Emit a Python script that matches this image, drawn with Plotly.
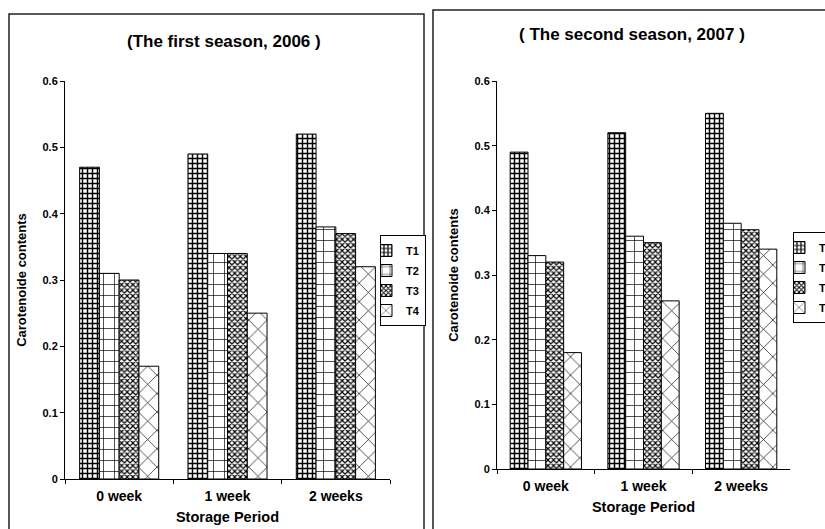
import plotly.graph_objects as go

# Storage periods on the category axis
periods = ["0 week", "1 week", "2 weeks"]
treatments = ["T1", "T2", "T3", "T4"]

# Carotenoide contents, first season (2006)
s2006_T1 = [0.47, 0.49, 0.52]
s2006_T2 = [0.31, 0.34, 0.38]
s2006_T3 = [0.30, 0.34, 0.37]
s2006_T4 = [0.17, 0.25, 0.32]

# Carotenoide contents, second season (2007)
s2007_T1 = [0.49, 0.52, 0.55]
s2007_T2 = [0.33, 0.36, 0.38]
s2007_T3 = [0.32, 0.35, 0.37]
s2007_T4 = [0.18, 0.26, 0.34]

season1 = [s2006_T1, s2006_T2, s2006_T3, s2006_T4]
season2 = [s2007_T1, s2007_T2, s2007_T3, s2007_T4]

W, H = 825, 529
FONT = "Liberation Sans, Arial, sans-serif"

# Black-and-white fill patterns for each treatment
patterns = {
    "T1": dict(shape="+", size=5, solidity=0.5),
    "T2": dict(shape="+", size=11, solidity=0.12),
    "T3": dict(shape="x", size=4, solidity=0.5),
    "T4": dict(shape="x", size=13, solidity=0.1),
}


def px_x(v):
    return v / W


def px_y(v):
    return 1 - v / H


fig = go.Figure()

for name, vals in zip(treatments, season1):
    fig.add_trace(go.Bar(
        x=periods, y=vals, name=name, xaxis="x", yaxis="y", legend="legend",
        legendgroup="a" + name,
        marker=dict(color="white", line=dict(color="black", width=1),
                    pattern=dict(fgcolor="black", bgcolor="white", fillmode="replace",
                                 **patterns[name])),
    ))

for name, vals in zip(treatments, season2):
    fig.add_trace(go.Bar(
        x=periods, y=vals, name=name, xaxis="x2", yaxis="y2", legend="legend2",
        legendgroup="b" + name,
        marker=dict(color="white", line=dict(color="black", width=1),
                    pattern=dict(fgcolor="black", bgcolor="white", fillmode="replace",
                                 **patterns[name])),
    ))

tickfont_x = dict(family=FONT, size=14, color="black", weight="bold")
tickfont_y = dict(family=FONT, size=11, color="black", weight="bold")
ytitlefont = dict(family=FONT, size=13, color="black", weight="bold")
xtitlefont = dict(family=FONT, size=14.5, color="black", weight="bold")

xaxis_common = dict(
    type="category", tickson="boundaries", ticks="outside", ticklen=4,
    tickcolor="black", showline=True, linecolor="black", linewidth=1,
    showgrid=False, tickfont=tickfont_x, zeroline=False, ticklabelstandoff=4,
    title=dict(text="Storage Period", font=xtitlefont, standoff=9),
)
yaxis_common = dict(
    range=[0, 0.6], dtick=0.1, ticks="outside", ticklen=4, tickcolor="black",
    showline=True, linecolor="black", linewidth=1, showgrid=False,
    zeroline=False, tickfont=tickfont_y,
    title=dict(text="Carotenoide contents", font=ytitlefont, standoff=12),
)

legend_common = dict(
    font=dict(family=FONT, size=11, color="#000000", weight="bold"),
    bgcolor="white", bordercolor="black", borderwidth=1,
    xanchor="left", yanchor="top", traceorder="grouped",
    tracegroupgap=1, itemclick=False, indentation=-15,
)

fig.update_layout(
    width=W, height=H,
    margin=dict(l=0, r=0, t=0, b=0, autoexpand=False),
    paper_bgcolor="white", plot_bgcolor="white",
    barmode="group", bargap=0.27, bargroupgap=0,
    xaxis=dict(domain=[px_x(65), px_x(390)], anchor="y", **xaxis_common),
    yaxis=dict(domain=[px_y(479), px_y(81)], anchor="x", **yaxis_common),
    xaxis2=dict(domain=[px_x(497), px_x(790)], anchor="y2", **xaxis_common),
    yaxis2=dict(domain=[px_y(469), px_y(81)], anchor="x2", **yaxis_common),
    legend=dict(x=px_x(380), y=px_y(235), **legend_common),
    legend2=dict(x=px_x(793), y=px_y(232), **legend_common),
    showlegend=True,
    annotations=[
        dict(text="(The first season, 2006 )", x=px_x(224), y=px_y(42),
             xref="paper", yref="paper", showarrow=False, xanchor="center",
             yanchor="middle",
             font=dict(family=FONT, size=17, color="black", weight="bold")),
        dict(text="( The second season, 2007 )", x=px_x(632), y=px_y(35),
             xref="paper", yref="paper", showarrow=False, xanchor="center",
             yanchor="middle",
             font=dict(family=FONT, size=17, color="black", weight="bold")),
    ],
    shapes=[
        # panel frames
        dict(type="rect", xref="paper", yref="paper",
             x0=px_x(9), x1=px_x(424), y0=px_y(535), y1=px_y(14),
             line=dict(color="#222", width=1.5)),
        dict(type="rect", xref="paper", yref="paper",
             x0=px_x(433), x1=px_x(840), y0=px_y(535), y1=px_y(10),
             line=dict(color="#222", width=1.5)),
    ],
)

fig.write_html("out.html")
